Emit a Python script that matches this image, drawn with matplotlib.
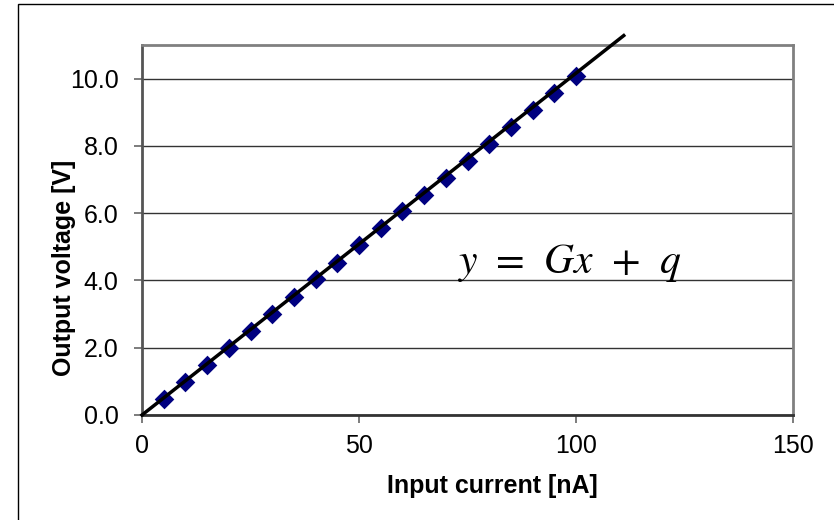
import matplotlib
matplotlib.use("Agg")
import matplotlib.pyplot as plt
from matplotlib.patches import Rectangle

plt.rcParams['font.family'] = ['Liberation Sans', 'DejaVu Sans']
plt.rcParams['mathtext.fontset'] = 'stix'

# Data
current_nA = [5, 10, 15, 20, 25, 30, 35, 40, 45, 50, 55, 60, 65, 70, 75, 80, 85, 90, 95, 100]
voltage_V = [0.48, 0.98, 1.49, 1.99, 2.50, 3.01, 3.52, 4.03, 4.53, 5.04,
             5.55, 6.05, 6.55, 7.06, 7.56, 8.06, 8.57, 9.07, 9.57, 10.07]
fit_x = [0, 111]
fit_y = [0.0, 11.28]
x_ticks = [0, 50, 100, 150]
y_ticks = [0.0, 2.0, 4.0, 6.0, 8.0, 10.0]
y_tick_labels = ['0.0', '2.0', '4.0', '6.0', '8.0', '10.0']

fig = plt.figure(figsize=(8.34, 5.2), dpi=100)
ax = fig.add_axes([142/834, 1-415/520, (793-142)/834, (415-45)/520])

# outer chart border (left and top visible)
fig.patches.append(Rectangle((18/834, -0.1), 1.2, 1.1 - 4/520, transform=fig.transFigure,
                             fill=False, edgecolor='black', linewidth=1.0, zorder=0))

ax.set_xlim(0, 150)
ax.set_ylim(0, 11.0)
ax.set_xticks(x_ticks)
ax.set_yticks(y_ticks)
ax.set_yticklabels(y_tick_labels)

ax.grid(axis='y', color='#333333', linewidth=1.0, zorder=1)
ax.set_axisbelow(True)

for side in ['top', 'right']:
    ax.spines[side].set_color('#808080')
    ax.spines[side].set_linewidth(2.0)
ax.spines['left'].set_color('#555555')
ax.spines['left'].set_linewidth(2.0)
ax.spines['bottom'].set_color('#333333')
ax.spines['bottom'].set_linewidth(2.0)

ax.tick_params(axis='both', direction='out', length=6, width=1.2, color='#666666',
               labelsize=18, labelcolor='black')
ax.tick_params(axis='x', pad=8)
ax.tick_params(axis='y', pad=11)

ax.scatter(current_nA, voltage_V, marker='D', s=100, color='#000080', zorder=3, linewidths=0)
ax.plot(fit_x, fit_y, color='black', linewidth=2.5, zorder=4, clip_on=False)

ax.text(98.4, 4.22, r'$y\;\,=\;\,Gx\;\,+\;\,q$', fontsize=30, ha='center', va='baseline', zorder=5)

fig.text(492/834, 1-486/520, 'Input current [nA]', fontsize=18, fontweight='bold',
         ha='center', va='center')
fig.text(64/834, 1-268/520, 'Output voltage [V]', fontsize=18, fontweight='bold',
         ha='center', va='center', rotation=90)

fig.savefig('out.png', dpi=100)
